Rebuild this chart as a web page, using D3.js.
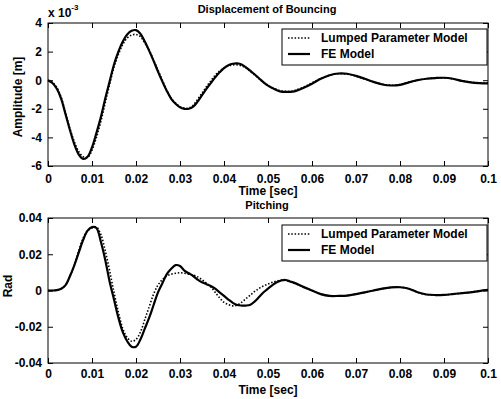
<!DOCTYPE html>
<html>
<head>
<meta charset="utf-8">
<script src="https://cdn.jsdelivr.net/npm/d3@7"></script>
<style>
  body { margin: 0; background: #fff; }
  svg text { font-family: "Liberation Sans", Arial, sans-serif; font-weight: bold; fill: #000; }
</style>
</head>
<body>
<div id="chart"></div>
<script>
// time axis [sec]
var time = [0, 0.001, 0.002, 0.003, 0.004, 0.005, 0.006, 0.007, 0.008, 0.009,
  0.010, 0.011, 0.012, 0.013, 0.014, 0.015, 0.016, 0.017, 0.018, 0.019,
  0.020, 0.021, 0.022, 0.023, 0.024, 0.025, 0.026, 0.027, 0.028, 0.029,
  0.030, 0.031, 0.032, 0.033, 0.034, 0.035, 0.036, 0.037, 0.038, 0.039,
  0.040, 0.041, 0.042, 0.043, 0.044, 0.045, 0.046, 0.047, 0.048, 0.049,
  0.050, 0.051, 0.052, 0.053, 0.054, 0.055, 0.056, 0.058, 0.060, 0.062,
  0.064, 0.066, 0.068, 0.070, 0.072, 0.074, 0.076, 0.078, 0.080, 0.082,
  0.084, 0.086, 0.088, 0.090, 0.092, 0.094, 0.096, 0.098, 0.100];

// bouncing displacement, x 10^-3 m
var bounceFE = [0, -0.2, -0.6, -1.3, -2.4, -3.5, -4.5, -5.2, -5.5, -5.35,
  -4.7, -3.7, -2.6, -1.3, -0.1, 1.1, 2.0, 2.7, 3.2, 3.45,
  3.5, 3.25, 2.7, 2.05, 1.35, 0.6, -0.1, -0.75, -1.3, -1.65,
  -1.9, -2.0, -2.0, -1.85, -1.5, -1.05, -0.6, -0.2, 0.2, 0.55,
  0.85, 1.05, 1.15, 1.17, 1.1, 0.9, 0.65, 0.4, 0.12, -0.15,
  -0.38, -0.55, -0.7, -0.8, -0.82, -0.82, -0.78, -0.55, -0.25, 0.1,
  0.35, 0.47, 0.45, 0.3, 0.1, -0.12, -0.3, -0.37, -0.33, -0.15,
  0.0, 0.1, 0.15, 0.17, 0.1, -0.05, -0.15, -0.2, -0.22];

var bounceLumped = [0, -0.15, -0.5, -1.2, -2.3, -3.4, -4.3, -5.0, -5.35, -5.4,
  -4.9, -4.0, -2.9, -1.6, -0.3, 0.9, 1.8, 2.5, 2.95, 3.15,
  3.2, 3.05, 2.6, 2.1, 1.4, 0.7, 0.0, -0.7, -1.25, -1.6,
  -1.85, -1.95, -1.95, -1.75, -1.35, -0.9, -0.45, -0.05, 0.35, 0.65,
  0.85, 1.0, 1.07, 1.07, 1.0, 0.85, 0.6, 0.35, 0.1, -0.15,
  -0.35, -0.52, -0.65, -0.75, -0.78, -0.78, -0.72, -0.5, -0.18, 0.12,
  0.35, 0.45, 0.42, 0.28, 0.08, -0.12, -0.28, -0.35, -0.3, -0.15,
  0.0, 0.1, 0.15, 0.16, 0.1, -0.04, -0.13, -0.18, -0.2];

// pitching angle, rad
var pitchFE = [0, 0, 0.0002, 0.001, 0.003, 0.008, 0.014, 0.021, 0.028, 0.033,
  0.035, 0.0345, 0.027, 0.017, 0.005, -0.005, -0.015, -0.023, -0.028, -0.031,
  -0.031, -0.027, -0.021, -0.015, -0.008, -0.001, 0.004, 0.009, 0.012, 0.014,
  0.0135, 0.011, 0.0095, 0.008, 0.006, 0.0045, 0.0035, 0.0025, 0.001, -0.001,
  -0.003, -0.005, -0.0068, -0.008, -0.0083, -0.0083, -0.0078, -0.006, -0.0035, -0.001,
  0.001, 0.003, 0.0045, 0.0055, 0.0058, 0.005, 0.0042, 0.002, 0.0, -0.002,
  -0.003, -0.003, -0.0028, -0.002, -0.001, 0.0, 0.001, 0.0017, 0.0018, 0.001,
  -0.001, -0.0022, -0.0025, -0.0024, -0.002, -0.0015, -0.001, -0.0003, 0.0003];

var pitchLumped = [0, 0, 0.0002, 0.001, 0.003, 0.008, 0.014, 0.022, 0.029, 0.033,
  0.0345, 0.035, 0.031, 0.022, 0.011, -0.001, -0.012, -0.021, -0.026, -0.028,
  -0.027, -0.023, -0.016, -0.009, -0.002, 0.003, 0.006, 0.008, 0.009, 0.0095,
  0.0098, 0.0095, 0.009, 0.0085, 0.0075, 0.006, 0.004, 0.002, -0.001, -0.004,
  -0.0065, -0.0078, -0.0085, -0.008, -0.0065, -0.0045, -0.0025, -0.0005, 0.0012, 0.0025,
  0.0035, 0.0045, 0.0053, 0.0057, 0.0056, 0.005, 0.004, 0.002, 0.0, -0.002,
  -0.003, -0.003, -0.0028, -0.002, -0.001, 0.0, 0.001, 0.0017, 0.0018, 0.001,
  -0.001, -0.0022, -0.0025, -0.0024, -0.002, -0.0015, -0.001, -0.0003, 0.0003];

var xTicks = [0, 0.01, 0.02, 0.03, 0.04, 0.05, 0.06, 0.07, 0.08, 0.09, 0.1];
var bounceTicks = [-6, -4, -2, 0, 2, 4];
var pitchTicks = [-0.04, -0.02, 0, 0.02, 0.04];
var seriesNames = ["Lumped Parameter Model", "FE Model"];

var svg = d3.select("#chart").append("svg")
    .attr("width", 501)
    .attr("height", 399);

function drawPanel(opt) {
    var x = d3.scaleLinear().domain([0, 0.1]).range([opt.left, opt.right]);
    var y = d3.scaleLinear().domain(opt.yDomain).range([opt.bottom, opt.top]);
    var g = svg.append("g");

    var line = d3.line()
        .x(function (d) { return x(d[0]); })
        .y(function (d) { return y(d[1]); })
        .curve(d3.curveCatmullRom);

    var fe = time.map(function (t, i) { return [t, opt.fe[i]]; });
    var lp = time.map(function (t, i) { return [t, opt.lumped[i]]; });

    // curves
    g.append("path").datum(fe)
        .attr("d", line)
        .attr("fill", "none")
        .attr("stroke", "#000")
        .attr("stroke-width", 2.2);
    g.append("path").datum(lp)
        .attr("d", line)
        .attr("fill", "none")
        .attr("stroke", "#000")
        .attr("stroke-width", 1.6)
        .attr("stroke-dasharray", "1.5,1.8");

    // axes with inward ticks on all four sides
    var bottomAxis = g.append("g")
        .attr("transform", "translate(0," + opt.bottom + ")")
        .call(d3.axisBottom(x).tickValues(xTicks).tickSize(-5).tickPadding(opt.xPad)
            .tickFormat(function (d) { return d === 0 ? "0" : String(+d.toFixed(2)); }));
    var topAxis = g.append("g")
        .attr("transform", "translate(0," + opt.top + ")")
        .call(d3.axisTop(x).tickValues(xTicks).tickSize(-5).tickFormat(""));
    var leftAxis = g.append("g")
        .attr("transform", "translate(" + opt.left + ",0)")
        .call(d3.axisLeft(y).tickValues(opt.yTicks).tickSize(-5).tickPadding(6)
            .tickFormat(opt.yFormat));
    var rightAxis = g.append("g")
        .attr("transform", "translate(" + opt.right + ",0)")
        .call(d3.axisRight(y).tickValues(opt.yTicks).tickSize(-5).tickFormat(""));

    [bottomAxis, topAxis, leftAxis, rightAxis].forEach(function (a) {
        a.select(".domain").remove();
        a.selectAll("line").attr("stroke", "#000");
        a.selectAll("text")
            .style("font-size", "12px")
            .style("font-weight", "bold")
            .style("font-family", "Liberation Sans, Arial, sans-serif");
    });

    // frame
    g.append("rect")
        .attr("x", opt.left).attr("y", opt.top)
        .attr("width", opt.right - opt.left)
        .attr("height", opt.bottom - opt.top)
        .attr("fill", "none").attr("stroke", "#000").attr("stroke-width", 1);

    // title and labels
    g.append("text")
        .attr("x", 267).attr("y", opt.titleY)
        .attr("text-anchor", "middle")
        .style("font-size", "11px")
        .text(opt.title);
    g.append("text")
        .attr("x", 268).attr("y", opt.xLabelY)
        .attr("text-anchor", "middle")
        .style("font-size", "12px")
        .text("Time [sec]");
    g.append("text")
        .attr("transform", "translate(" + opt.yLabelX + "," + opt.yLabelY + ") rotate(-90)")
        .attr("text-anchor", "middle")
        .style("font-size", "12px")
        .text(opt.yLabel);

    // legend
    var lg = g.append("g");
    lg.append("rect")
        .attr("x", opt.legend[0]).attr("y", opt.legend[1])
        .attr("width", opt.legend[2]).attr("height", opt.legend[3])
        .attr("fill", "#fff").attr("stroke", "#000").attr("stroke-width", 1);
    seriesNames.forEach(function (name, i) {
        var cy = opt.legend[1] + 9 + i * 16;
        lg.append("line")
            .attr("x1", opt.legend[0] + 6).attr("x2", opt.legend[0] + 28)
            .attr("y1", cy).attr("y2", cy)
            .attr("stroke", "#000")
            .attr("stroke-width", i === 0 ? 1.6 : 2.2)
            .attr("stroke-dasharray", i === 0 ? "1.5,1.8" : null);
        lg.append("text")
            .attr("x", opt.legend[0] + 39).attr("y", cy + 4)
            .style("font-size", "12px")
            .text(name);
    });
}

drawPanel({
    left: 48, right: 488, top: 23, bottom: 166,
    yDomain: [-6, 4], yTicks: bounceTicks,
    yFormat: function (d) { return String(d); },
    fe: bounceFE, lumped: bounceLumped, xPad: 8,
    title: "Displacement of Bouncing", titleY: 13,
    xLabelY: 195, yLabel: "Amplitude [m]", yLabelX: 22, yLabelY: 97,
    legend: [282, 29, 205, 36]
});

drawPanel({
    left: 48, right: 488, top: 218, bottom: 363,
    yDomain: [-0.04, 0.04], yTicks: pitchTicks,
    yFormat: function (d) { return d === 0 ? "0" : d.toFixed(2); },
    fe: pitchFE, lumped: pitchLumped, xPad: 6,
    title: "Pitching", titleY: 209,
    xLabelY: 394, yLabel: "Rad", yLabelX: 12, yLabelY: 286,
    legend: [282, 225, 205, 36]
});

// exponent label of the top panel
var expo = svg.append("text").attr("x", 48).attr("y", 17).style("font-size", "12px");
expo.append("tspan").text("x 10");
expo.append("tspan").attr("dy", -7).style("font-size", "8px").text("-3");
</script>
</body>
</html>
